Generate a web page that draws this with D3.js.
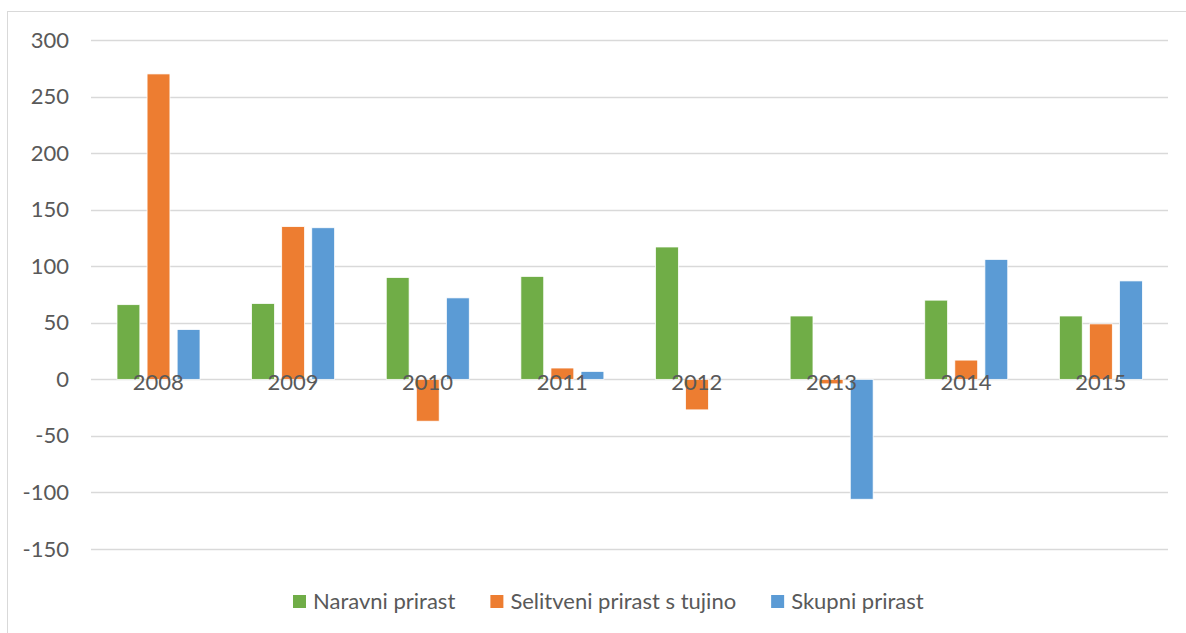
<!DOCTYPE html>
<html>
<head>
<meta charset="utf-8">
<script src="https://cdn.jsdelivr.net/npm/d3@7"></script>
<style>
  body { margin: 0; background: #fff; }
  svg text { font-family: Lato, "Open Sans", sans-serif; fill: #595959; }
</style>
</head>
<body>
<svg id="chart" width="1186" height="633"></svg>
<script>
const years = ['2008', '2009', '2010', '2011', '2012', '2013', '2014', '2015'];
const naravni = [66, 67, 90, 91, 117, 56, 70, 56];
const selitveni = [270, 135, -37, 10, -27, -4, 17, 49];
const skupni = [44, 134, 72, 7, 0, -106, 106, 87];
const seriesNames = ['Naravni prirast', 'Selitveni prirast s tujino', 'Skupni prirast'];
const colors = ['#70AD47', '#ED7D31', '#5B9BD5'];
const yTicks = [-150, -100, -50, 0, 50, 100, 150, 200, 250, 300];

const series = [naravni, selitveni, skupni];
const fontSize = 22;
const svg = d3.select('#chart');

// outer chart frame
svg.append('rect')
  .attr('x', 7.5).attr('y', 11.5)
  .attr('width', 1190).attr('height', 640)
  .attr('fill', 'none').attr('stroke', '#D9D9D9');

const x = d3.scaleBand().domain(years).range([91, 1168]);
const y = d3.scaleLinear().domain([-150, 300]).range([549, 40]);
const inner = d3.scaleBand().domain([0, 1, 2]).range([26, 109]).paddingInner(0.24);

// gridlines
svg.append('g').selectAll('line')
  .data(yTicks)
  .enter().append('line')
  .attr('x1', 91).attr('x2', 1168)
  .attr('y1', d => Math.round(y(d)) + 0.5)
  .attr('y2', d => Math.round(y(d)) + 0.5)
  .attr('stroke', '#D9D9D9').attr('stroke-width', 1.5);

// y axis labels
const yAxis = d3.axisLeft(y).tickValues(yTicks).tickSize(0).tickPadding(0)
  .tickFormat(d => String(d));
svg.append('g')
  .attr('transform', 'translate(69,0)')
  .call(yAxis)
  .call(g => g.select('.domain').remove())
  .call(g => g.selectAll('text')
    .attr('font-size', fontSize)
    .style('font-family', 'Lato, "Open Sans", sans-serif')
    .attr('fill', '#595959'));

// bars
const groups = svg.append('g').selectAll('g')
  .data(years)
  .enter().append('g')
  .attr('transform', d => `translate(${x(d)},0)`);

groups.selectAll('rect')
  .data((d, i) => series.map((s, k) => ({ k, v: s[i] })))
  .enter().append('rect')
  .attr('x', d => inner(d.k))
  .attr('width', inner.bandwidth())
  .attr('y', d => y(Math.max(0, d.v)))
  .attr('height', d => Math.abs(y(d.v) - y(0)))
  .attr('fill', d => colors[d.k])
  .attr('stroke', '#fff').attr('stroke-width', 0.75);

// category labels
const xAxis = d3.axisBottom(x).tickSize(0).tickPadding(0);
svg.append('g')
  .attr('transform', `translate(0,${y(0) - 5})`)
  .call(xAxis)
  .call(g => g.select('.domain').remove())
  .call(g => g.selectAll('text')
    .attr('font-size', fontSize)
    .style('font-family', 'Lato, "Open Sans", sans-serif')
    .attr('fill', '#595959'));

// legend
const legend = svg.append('g');
const items = legend.selectAll('g')
  .data(seriesNames)
  .enter().append('g');

items.append('rect')
  .attr('y', 595)
  .attr('width', 13).attr('height', 13)
  .attr('fill', (d, i) => colors[i]);

items.append('text')
  .attr('x', 20).attr('y', 609)
  .attr('font-size', fontSize)
  .text(d => d);

let cursor = 0;
items.each(function () {
  const w = this.getBBox().width;
  d3.select(this).attr('transform', `translate(${cursor},0)`);
  cursor += w + 35;
});
const total = cursor - 35;
legend.attr('transform', `translate(${Math.round(608 - total / 2)},0)`);
</script>
</body>
</html>
